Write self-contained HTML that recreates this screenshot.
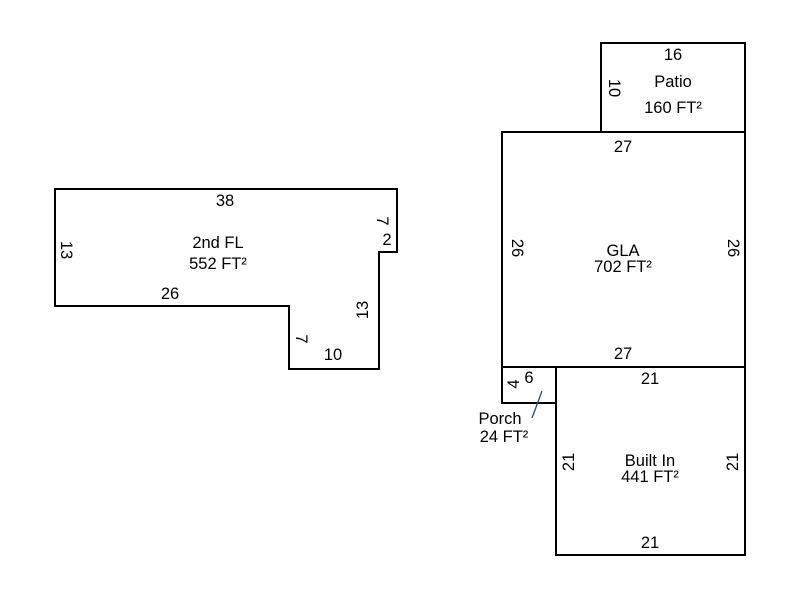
<!DOCTYPE html>
<html><head><style>body{margin:0;background:#fff}</style></head><body>
<svg width="800" height="600" xmlns="http://www.w3.org/2000/svg" font-family="Liberation Sans, sans-serif" font-size="16.5" fill="#000">
<g fill="none" stroke="#000" stroke-width="2">
<polygon points="55,189 397,189 397,252 379,252 379,369 289,369 289,306 55,306"/>
<rect x="601" y="43" width="144" height="89"/>
<rect x="502" y="132" width="243" height="235"/>
<rect x="556" y="367" width="189" height="188"/>
<rect x="502" y="367" width="54" height="36"/>
</g>
<line x1="542" y1="391" x2="532" y2="418" stroke="#2a4a7a" stroke-width="1.3"/>
<g text-anchor="middle">
<text x="225" y="206">38</text>
<text x="218" y="248">2nd FL</text>
<text x="218" y="269">552 FT²</text>
<text x="170" y="299">26</text>
<text x="387" y="245">2</text>
<text x="333" y="360">10</text>
<text x="673" y="60">16</text>
<text x="673" y="87">Patio</text>
<text x="673" y="113">160 FT²</text>
<text x="623" y="152">27</text>
<text x="623" y="256">GLA</text>
<text x="623" y="272">702 FT²</text>
<text x="623" y="359">27</text>
<text x="650" y="384">21</text>
<text x="650" y="466">Built In</text>
<text x="650" y="482">441 FT²</text>
<text x="650" y="548">21</text>
<text x="529" y="383">6</text>
<text x="500" y="424">Porch</text>
<text x="504" y="442">24 FT²</text>
<text transform="translate(61,250) rotate(90)">13</text>
<text transform="translate(377,221) rotate(90)">7</text>
<text transform="translate(368,310) rotate(-90)">13</text>
<text transform="translate(296,339) rotate(90)">7</text>
<text transform="translate(609,88) rotate(90)">10</text>
<text transform="translate(512,248) rotate(90)">26</text>
<text transform="translate(728,248) rotate(90)">26</text>
<text transform="translate(519,384) rotate(-90)">4</text>
<text transform="translate(574,462) rotate(-90)">21</text>
<text transform="translate(738,462) rotate(-90)">21</text>
</g>
</svg>
</body></html>
